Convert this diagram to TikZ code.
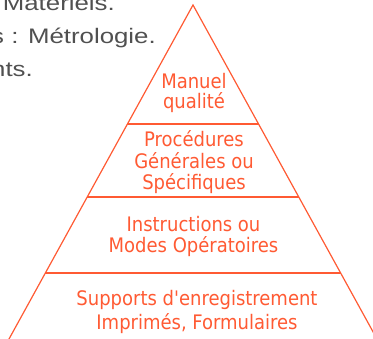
\documentclass[tikz,border=0pt]{standalone}
\usepackage{fontspec}
\usetikzlibrary{calc}
\setmainfont{Liberation Sans}
\newfontfamily\pyrfont{DejaVu Sans Condensed}
\newfontfamily\bgfont[FakeStretch=1.23]{Liberation Sans}
\definecolor{pyrred}{HTML}{FF5A33}
\definecolor{bggray}{HTML}{505050}
\tikzset{
  pyrline/.style={draw=pyrred, line width=1.2pt},
  pyrlabel/.style={text=pyrred, align=center, inner sep=0pt, anchor=base},
  skipa/.style={font=\pyrfont\fontsize{20}{20}\selectfont},
  skipb/.style={font=\pyrfont\fontsize{20}{21.7}\selectfont},
  skipc/.style={font=\pyrfont\fontsize{20}{21}\selectfont},
  skipd/.style={font=\pyrfont\fontsize{20}{23.5}\selectfont},
  bgtext/.style={text=bggray, font=\bgfont\fontsize{21}{24}\selectfont, inner sep=0pt, anchor=base east}
}
\begin{document}
\begin{tikzpicture}[x=1pt,y=-1pt]
\useasboundingbox (0,0) rectangle (373,339);
% background paragraph fragments
\node[bgtext] (t1) at (115,11) {Matériels.};
\node[bgtext] (t2) at (156,44) {s : Métrologie.};
\node[bgtext] (t3) at (33,77) {nts.};
% pyramid
\coordinate (apex) at (193,5);
\coordinate (bl) at (5.7,345);
\coordinate (br) at (380.3,345);
\draw[pyrline, line join=miter] (bl) -- (apex) -- (br);
\coordinate (l1) at ($(apex)!0.35!(bl)$);
\coordinate (r1) at ($(apex)!0.35!(br)$);
\coordinate (l2) at ($(apex)!0.5647!(bl)$);
\coordinate (r2) at ($(apex)!0.5647!(br)$);
\coordinate (l3) at ($(apex)!0.788!(bl)$);
\coordinate (r3) at ($(apex)!0.788!(br)$);
\draw[pyrline] (l1) -- (r1);
\draw[pyrline] (l2) -- (r2);
\draw[pyrline] (l3) -- (r3);
\node[pyrlabel, skipa] (b1) at (194,109) {Manuel\\qualité};
\node[pyrlabel, skipb] (b2) at (194,190) {Procédures\\Générales ou\\Spécifiques};
\node[pyrlabel, skipc] (b3) at (193.5,253) {Instructions ou\\Modes Opératoires};
\node[pyrlabel, skipd] (b4) at (197,329.5) {Supports d'enregistrement\\Imprimés, Formulaires};
\end{tikzpicture}
\end{document}
